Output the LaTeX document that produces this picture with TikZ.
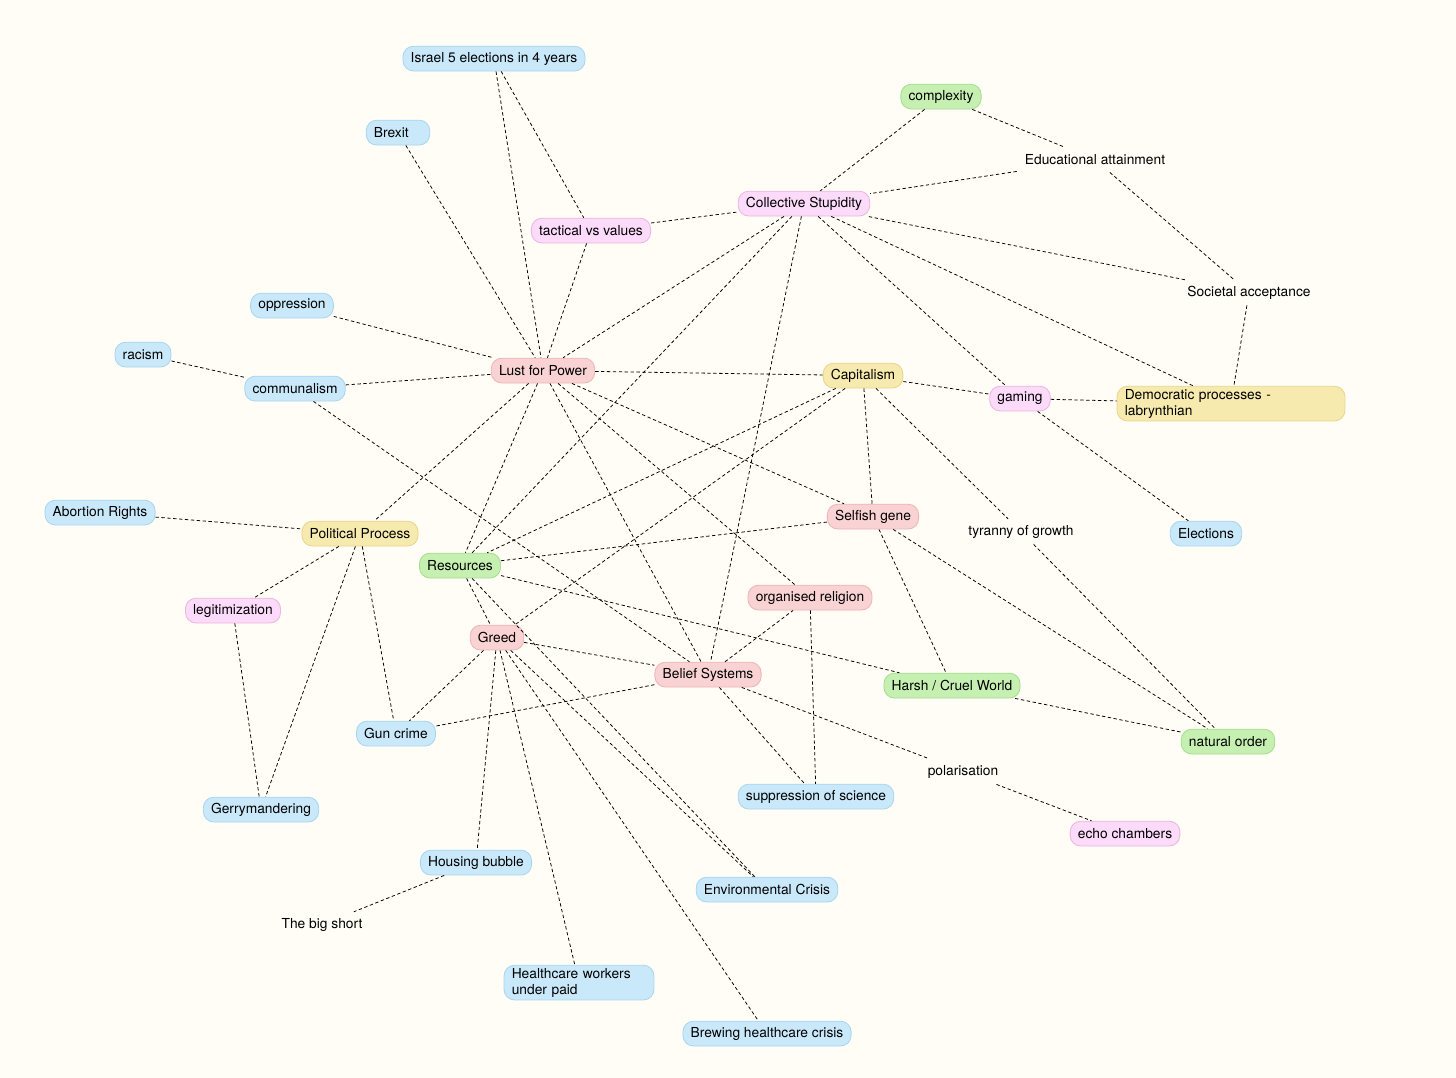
\documentclass[tikz,border=0pt]{standalone}
\usepackage{fontspec}
\setmainfont{TeX Gyre Heros}
\usetikzlibrary{positioning}
\tikzset{
  link/.style={
    draw=black,
    line width=0.55pt,
    dash pattern=on 2.4pt off 1.8pt
  },
  box/.style={
    rounded corners=7.5pt,
    line width=0.6pt,
    minimum height=0.62cm,
    inner xsep=5.5pt,
    inner ysep=2pt,
    font=\fontsize{9.8}{11.4}\selectfont
  },
  box-blue/.style={box, fill=boxblue, draw=lineblue},
  box-pink/.style={box, fill=boxpink, draw=linepink},
  box-red/.style={box, fill=boxred, draw=linered},
  box-yellow/.style={box, fill=boxyellow, draw=lineyellow},
  box-green/.style={box, fill=boxgreen, draw=linegreen},
  text-only/.style={box, draw=none, fill=none}
}
\definecolor{paper}{RGB}{255,253,246}
\definecolor{boxblue}{RGB}{201,233,251}
\definecolor{lineblue}{RGB}{168,214,240}
\definecolor{boxpink}{RGB}{251,218,250}
\definecolor{linepink}{RGB}{238,182,222}
\definecolor{boxred}{RGB}{249,210,211}
\definecolor{linered}{RGB}{240,180,182}
\definecolor{boxyellow}{RGB}{247,234,174}
\definecolor{lineyellow}{RGB}{232,214,140}
\definecolor{boxgreen}{RGB}{198,240,178}
\definecolor{linegreen}{RGB}{166,222,144}

\begin{document}
\begin{tikzpicture}[x=0.025cm, y=-0.025cm]
  \fill[paper] (0,0) rectangle (1456,1078);
  \useasboundingbox (0,0) rectangle (1456,1078);
  \begin{scope}[yshift=-0.04cm]
  % Top
  \node[box-blue] (israel) at (494,57) {Israel 5 elections in 4 years};
  \node[box-blue, text width=1.2cm, align=left] (brexit) at (398,131) {Brexit};
  \node[box-pink] (tactical) at (591,229) {tactical vs values};
  \node[box-pink] (collective) at (804,202) {Collective Stupidity};
  \node[box-green] (complexity) at (941,95) {complexity};
  \node[text-only] (education) at (1095,158) {Educational attainment};
  \node[text-only] (societal) at (1249,291) {Societal acceptance};
  % Middle
  \node[box-blue] (oppression) at (292,304) {oppression};
  \node[box-blue] (racism) at (143,353) {racism};
  \node[box-blue] (communalism) at (295,387) {communalism};
  \node[box-red] (lust) at (543,369) {Lust for Power};
  \node[box-yellow] (capitalism) at (863,374) {Capitalism};
  \node[box-pink] (gaming) at (1020,397) {gaming};
  \node[box-yellow, text width=5.31cm, align=left] (democratic) at (1231,402) {Democratic processes -\\labrynthian};
  \node[box-blue] (abortion) at (100,511) {Abortion Rights};
  \node[box-yellow] (political) at (360,532) {Political Process};
  \node[box-green] (resources) at (460,564) {Resources};
  \node[box-red] (selfish) at (873,515) {Selfish gene};
  \node[text-only] (tyranny) at (1021,530) {tyranny of growth};
  \node[box-blue] (elections) at (1206,532) {Elections};
  \node[box-pink] (legit) at (233,609) {legitimization};
  \node[box-red] (religion) at (810,596) {organised religion};
  \node[box-red] (greed) at (497,636) {Greed};
  \node[box-red] (belief) at (708,673) {Belief Systems};
  \node[box-green] (harsh) at (952,684) {Harsh / Cruel World};
  \node[box-green] (natural) at (1228,740) {natural order};
  % Bottom
  \node[box-blue] (guncrime) at (396,732) {Gun crime};
  \node[text-only] (polarisation) at (963,770) {polarisation};
  \node[box-blue] (science) at (816,795) {suppression of science};
  \node[box-blue] (gerry) at (261,808) {Gerrymandering};
  \node[box-pink] (echo) at (1125,832) {echo chambers};
  \node[box-blue] (housing) at (476,861) {Housing bubble};
  \node[box-blue] (environment) at (767,888) {Environmental Crisis};
  \node[text-only] (bigshort) at (322,923) {The big short};
  \node[box-blue, text width=3.36cm, align=left] (healthcare) at (579,981) {Healthcare workers\\under paid};
  \node[box-blue] (brewing) at (767,1032) {Brewing healthcare crisis};
  % Links from the top
  \draw[link] (israel) -- (lust);
  \draw[link] (israel) -- (tactical);
  \draw[link] (brexit) -- (lust);
  \draw[link] (tactical) -- (lust);
  \draw[link] (tactical) -- (collective);
  \draw[link] (complexity) -- (collective);
  \draw[link] (complexity) -- (education);
  \draw[link] (education) -- (collective);
  \draw[link] (education) -- (societal);
  \draw[link] (societal) -- (collective);
  \draw[link] (societal) -- (democratic);
  \draw[link] (collective) -- (democratic);
  \draw[link] (collective) -- (gaming);
  \draw[link] (collective) -- (lust);
  \draw[link] (collective) -- (resources);
  \draw[link] (collective) -- (belief);
  % Links from Lust for Power
  \draw[link] (oppression) -- (lust);
  \draw[link] (communalism) -- (lust);
  \draw[link] (racism) -- (communalism);
  \draw[link] (communalism) -- (belief);
  \draw[link] (lust) -- (capitalism);
  \draw[link] (lust) -- (political);
  \draw[link] (lust) -- (resources);
  \draw[link] (lust) -- (belief);
  \draw[link] (lust) -- (religion);
  \draw[link] (lust) -- (selfish);
  % Links from Capitalism
  \draw[link] (capitalism) -- (gaming);
  \draw[link] (capitalism) -- (selfish);
  \draw[link] (capitalism) -- (tyranny);
  \draw[link] (capitalism) -- (greed);
  \draw[link] (capitalism) -- (resources);
  \draw[link] (gaming) -- (democratic);
  \draw[link] (gaming) -- (elections);
  % Links from Political Process
  \draw[link] (abortion) -- (political);
  \draw[link] (political) -- (legit);
  \draw[link] (political) -- (gerry);
  \draw[link] (political) -- (guncrime);
  \draw[link] (legit) -- (gerry);
  % Links from Resources and Greed
  \draw[link] (resources) -- (selfish);
  \draw[link] (resources) -- (harsh);
  \draw[link] (resources) -- (greed);
  \draw[link] (resources) -- (environment);
  \draw[link] (greed) -- (belief);
  \draw[link] (greed) -- (guncrime);
  \draw[link] (greed) -- (housing);
  \draw[link] (greed) -- (healthcare);
  \draw[link] (greed) -- (brewing);
  \draw[link] (greed) -- (environment);
  \draw[link] (housing) -- (bigshort);
  % Links from Belief Systems
  \draw[link] (belief) -- (guncrime);
  \draw[link] (belief) -- (religion);
  \draw[link] (belief) -- (science);
  \draw[link] (belief) -- (polarisation);
  \draw[link] (religion) -- (science);
  \draw[link] (polarisation) -- (echo);
  % Links to natural order
  \draw[link] (selfish) -- (harsh);
  \draw[link] (selfish) -- (natural);
  \draw[link] (harsh) -- (natural);
  \draw[link] (tyranny) -- (natural);
  \end{scope}
\end{tikzpicture}
\end{document}
